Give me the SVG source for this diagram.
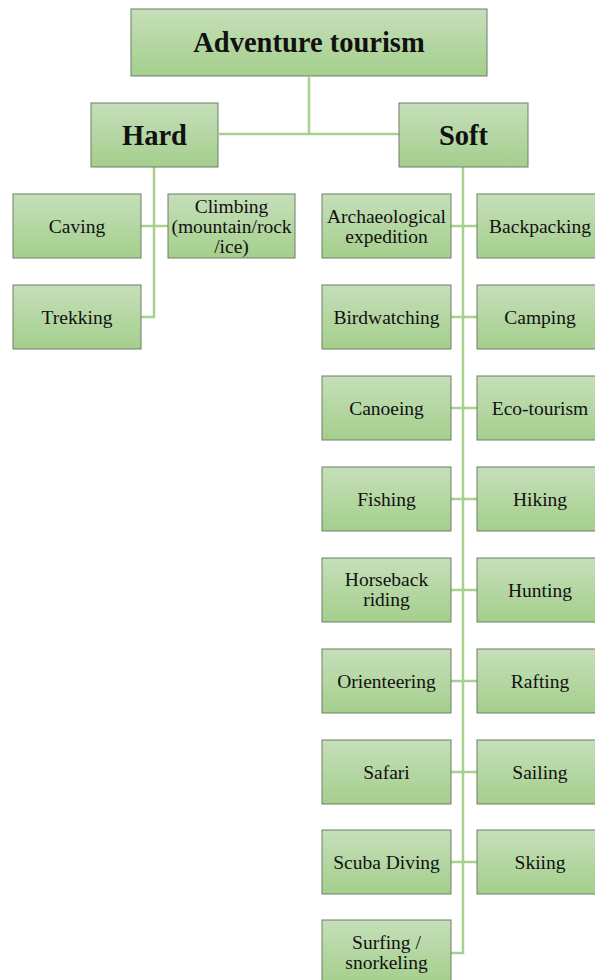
<svg xmlns="http://www.w3.org/2000/svg" width="595" height="980" viewBox="0 0 595 980">
<defs>
<linearGradient id="g" x1="0" y1="0" x2="0" y2="1">
<stop offset="0" stop-color="#c6dfba"/>
<stop offset="1" stop-color="#a4cf8c"/>
</linearGradient>
<style>
rect{fill:url(#g);stroke:#6e7d66;stroke-width:1}
text{font-family:"Liberation Serif","Times New Roman",serif;fill:#111;text-anchor:middle}
.t{font-size:28.5px;font-weight:bold}
.l{font-size:19.5px}
#conn path{fill:none;stroke:#a9d18e;stroke-width:2.5}
</style>
</defs>
<rect width="595" height="980" style="fill:#fff;stroke:none"/>
<g id="conn">
<path d="M309 77V134M219 134H399"/>
<path d="M154 167V317H141M141 226H168"/>
<path d="M463 167V953H451"/>
<path d="M451 226H477M451 317H477M451 408H477M451 499H477M451 590H477M451 681H477M451 772H477M451 862H477"/>
</g>
<g id="root"><rect x="131" y="9" width="356" height="67"/><text class="t" x="309" y="52">Adventure tourism</text></g>
<g id="hard"><rect x="91" y="103" width="127" height="64"/><text class="t" x="154.5" y="145">Hard</text></g>
<g id="soft"><rect x="399" y="103" width="129" height="64"/><text class="t" x="463.5" y="145">Soft</text></g>
<g id="caving"><rect x="13" y="194" width="128" height="64"/><text class="l" x="77" y="233">Caving</text></g>
<g id="climbing"><rect x="168" y="194" width="127" height="64"/><text class="l" x="231.5" y="213">Climbing</text><text class="l" x="231.5" y="233">(mountain/rock</text><text class="l" x="231.5" y="253">/ice)</text></g>
<g id="trekking"><rect x="13" y="285" width="128" height="64"/><text class="l" x="77" y="324">Trekking</text></g>
<g id="archaeological"><rect x="322" y="194" width="129" height="64"/><text class="l" x="386.5" y="223">Archaeological</text><text class="l" x="386.5" y="243">expedition</text></g>
<g id="backpacking"><rect x="477" y="194" width="125" height="64"/><text class="l" x="540" y="233">Backpacking</text></g>
<g id="birdwatching"><rect x="322" y="285" width="129" height="64"/><text class="l" x="386.5" y="324">Birdwatching</text></g>
<g id="camping"><rect x="477" y="285" width="125" height="64"/><text class="l" x="540" y="324">Camping</text></g>
<g id="canoeing"><rect x="322" y="376" width="129" height="64"/><text class="l" x="386.5" y="415">Canoeing</text></g>
<g id="ecotourism"><rect x="477" y="376" width="125" height="64"/><text class="l" x="540" y="415">Eco-tourism</text></g>
<g id="fishing"><rect x="322" y="467" width="129" height="64"/><text class="l" x="386.5" y="506">Fishing</text></g>
<g id="hiking"><rect x="477" y="467" width="125" height="64"/><text class="l" x="540" y="506">Hiking</text></g>
<g id="horseback"><rect x="322" y="558" width="129" height="64"/><text class="l" x="386.5" y="586">Horseback</text><text class="l" x="386.5" y="606">riding</text></g>
<g id="hunting"><rect x="477" y="558" width="125" height="64"/><text class="l" x="540" y="597">Hunting</text></g>
<g id="orienteering"><rect x="322" y="649" width="129" height="64"/><text class="l" x="386.5" y="688">Orienteering</text></g>
<g id="rafting"><rect x="477" y="649" width="125" height="64"/><text class="l" x="540" y="688">Rafting</text></g>
<g id="safari"><rect x="322" y="740" width="129" height="64"/><text class="l" x="386.5" y="779">Safari</text></g>
<g id="sailing"><rect x="477" y="740" width="125" height="64"/><text class="l" x="540" y="779">Sailing</text></g>
<g id="scuba"><rect x="322" y="830" width="129" height="64"/><text class="l" x="386.5" y="869">Scuba Diving</text></g>
<g id="skiing"><rect x="477" y="830" width="125" height="64"/><text class="l" x="540" y="869">Skiing</text></g>
<g id="surfing"><rect x="322" y="920" width="129" height="64"/><text class="l" x="386.5" y="949">Surfing /</text><text class="l" x="386.5" y="969">snorkeling</text></g>
</svg>
